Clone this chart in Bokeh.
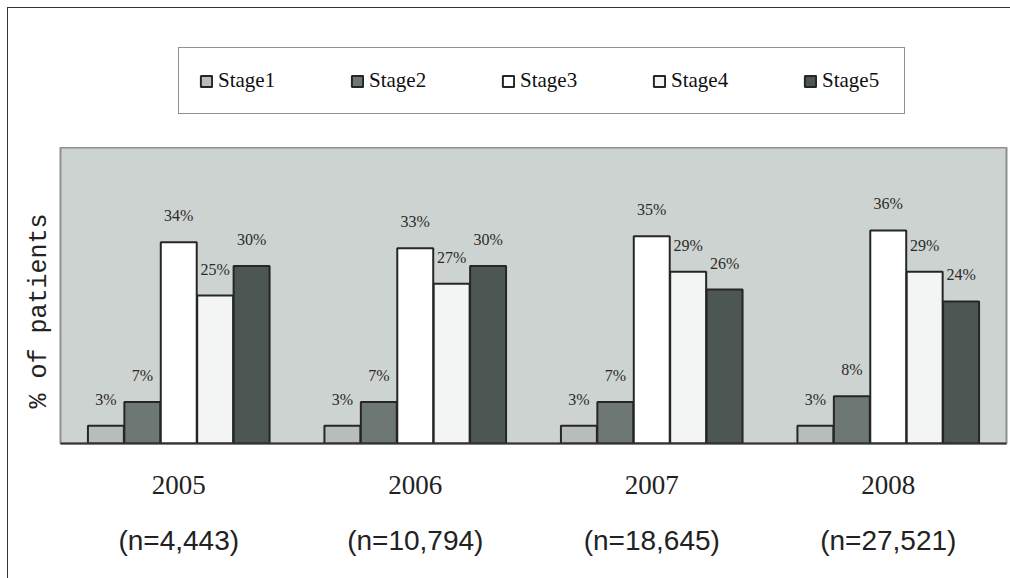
from bokeh.plotting import figure
from bokeh.layouts import column
from bokeh.models import (FactorRange, Range1d, ColumnDataSource, Legend, LegendItem,
                          CategoricalAxis, Title)
from bokeh.transform import dodge
from bokeh.core.properties import value
from bokeh.embed import file_html
from bokeh.resources import INLINE

years = ["2005", "2006", "2007", "2008"]
n_labels = ["(n=4,443)", "(n=10,794)", "(n=18,645)", "(n=27,521)"]
stages = ["Stage1", "Stage2", "Stage3", "Stage4", "Stage5"]
stage1 = [3, 3, 3, 3]
stage2 = [7, 7, 7, 8]
stage3 = [34, 33, 35, 36]
stage4 = [25, 27, 29, 29]
stage5 = [30, 30, 26, 24]

series = [stage1, stage2, stage3, stage4, stage5]
colors = ["#b8bcba", "#6d7874", "#ffffff", "#f3f5f4", "#4c5652"]
offsets = [-0.308, -0.154, 0.0, 0.154, 0.308]
bar_w = 0.152
bar_line = "#262626"

# ---- top strip holding the legend; its bars sit hidden behind the legend box ----
p0 = figure(width=1002, height=139,
            x_range=FactorRange(factors=years, range_padding=0.5),
            y_range=Range1d(-25.5, 65.5), output_backend="svg",
            toolbar_location=None, x_axis_location=None, y_axis_location=None,
            min_border=0)
p0.outline_line_color = None
p0.grid.visible = False
p0.background_fill_color = "white"
p0.border_fill_color = "white"

items = []
for name, vals, col in zip(stages, series, colors):
    src0 = ColumnDataSource(dict(x=years, top=vals))
    r0 = p0.vbar(x="x", top="top", width=bar_w, source=src0, fill_color=col,
                 line_color=bar_line, line_width=2)
    items.append(LegendItem(label=name, renderers=[r0]))

legend = Legend(items=items, orientation="horizontal", location=(118, 33),
                label_text_font="Liberation Serif", label_text_font_size="21px",
                label_text_color="#111111", label_width=62,
                glyph_width=14, glyph_height=14, label_standoff=5, spacing=70,
                padding=20, margin=0, border_line_color="#222222",
                border_line_width=1.5, background_fill_color="white",
                background_fill_alpha=1)
p0.add_layout(legend, "center")

# ---- main chart ----
p = figure(width=1002, height=431, x_range=FactorRange(factors=years),
           y_range=Range1d(0, 50), output_backend="svg", toolbar_location=None,
           min_border_left=52, min_border_right=4, min_border_top=0,
           min_border_bottom=135)
p.extra_x_ranges = {"n": FactorRange(factors=n_labels)}

p.background_fill_color = "#cdd3d0"
p.border_fill_color = "white"
p.outline_line_color = "#8e918f"
p.outline_line_width = 2
p.xgrid.visible = False
p.ygrid.visible = False

for name, vals, col, off in zip(stages, series, colors, offsets):
    src = ColumnDataSource(dict(x=years, top=vals, lab=[f"{v}%" for v in vals]))
    p.vbar(x=dodge("x", off, range=p.x_range), top="top", width=bar_w, source=src,
           fill_color=col, line_color=bar_line, line_width=2)
    p.text(x=dodge("x", off, range=p.x_range), y="top", text="lab", source=src,
           text_font=value("Liberation Serif"), text_font_size="16px",
           text_color="#2a2a2a", text_align="center", text_baseline="bottom",
           y_offset=-18)

# y axis hidden; its label drawn as a side title
p.yaxis.visible = False
ylab = Title(text="% of patients", align="left", offset=35, standoff=14,
             text_font="Liberation Mono", text_font_size="25px",
             text_font_style="normal", text_color="#222222")
p.add_layout(ylab, "left")

# x axis: years
p.xaxis.major_tick_line_color = None
p.xaxis.minor_tick_line_color = None
p.xaxis.axis_line_color = "#333333"
p.xaxis.axis_line_width = 2
p.xaxis.major_label_text_font = "Liberation Serif"
p.xaxis.major_label_text_font_size = "27px"
p.xaxis.major_label_text_color = "#222222"
p.xaxis.major_label_standoff = 26

# second x axis: sample sizes
ax2 = CategoricalAxis(x_range_name="n",
                      axis_line_color=None, major_tick_line_color=None,
                      minor_tick_line_color=None,
                      major_label_text_font="Liberation Sans",
                      major_label_text_font_size="28px",
                      major_label_text_color="#222222",
                      major_label_standoff=22)
p.add_layout(ax2, "below")

layout = column(p0, p, spacing=0,
                styles={"margin-left": "7px", "margin-top": "7px",
                        "border-left": "1px solid #333",
                        "border-top": "1px solid #333"})

open("out.html", "w").write(file_html(layout, INLINE))
